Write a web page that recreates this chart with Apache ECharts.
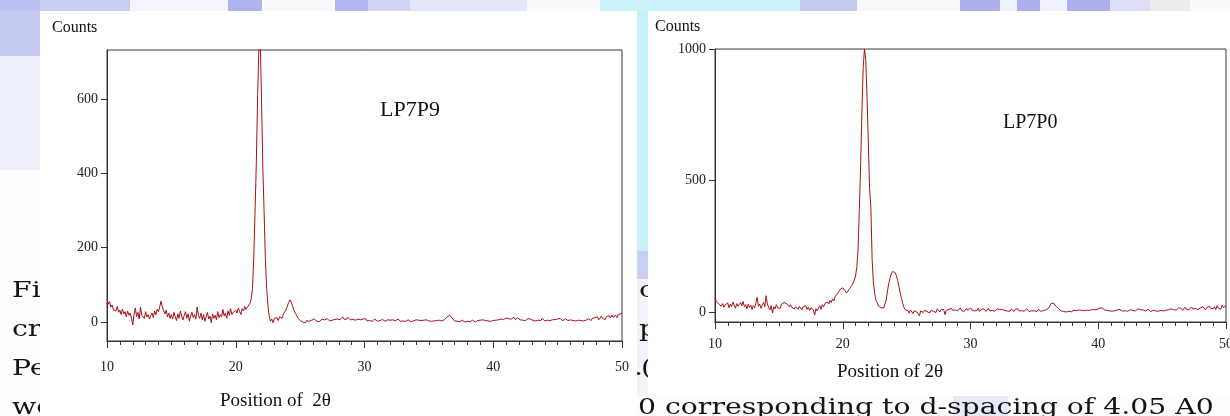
<!DOCTYPE html>
<html>
<head>
<meta charset="utf-8">
<script src="https://cdn.jsdelivr.net/npm/echarts@6/dist/echarts.min.js"></script>
<style>
  html, body { margin: 0; padding: 0; background: #fdfdfe; }
  #xrdChart { width: 1230px; height: 416px; }
</style>
</head>
<body>
<div id="xrdChart"></div>
<script>
// 2θ sampling of both scans: 10.0 .. 50.0, step 0.1
var thetaStart = 10;
var thetaStep = 0.1;

// LP7P9 counts (one row per degree)
var lp7p9Counts = [
  62, 48, 55, 40, 46, 33, 38, 30, 42, 26,
  32, 20, 35, 22, 28, 14, 30, 18, 24, 12,
  -8, 20, 38, 15, 26, 8, 40, 18, 22, 10,
  28, 14, 20, 8, 18, 24, 12, 30, 20, 35,
  28, 42, 56, 40, 30, 22, 32, 14, 24, 10,
  20, 8, 26, 14, 4, 22, 10, 30, 16, 6,
  18, 28, 10, 22, 2, 16, 26, 12, 20, 8,
  40, 18, 10, 24, 6, 20, 2, 14, 26, 8,
  16, -2, 22, 10, 18, 6, 28, 12, 20, 14,
  34, 16, 24, 10, 30, 18, 36, 20, 26, 22,
  32, 24, 38, 28, 20, 36, 30, 42, 34, 40,
  38, 50, 62, 90, 175, 300, 430, 610, 745, 760,
  600, 420, 300, 170, 90, 45, 15, 2, 8, -2,
  10, 6, 12, 4, 14, 18, 10, 22, 20, 32,
  42, 52, 60, 54, 44, 34, 26, 20, 12, 10,
  4, 6, 0, 2, -2, 4, 6, 2, 0, 5,
  3, 8, 4, 2, 6, 1, 5, 8, 3, 6,
  4, 9, 6, 3, 8, 5, 10, 7, 4, 8,
  12, 6, 9, 14, 8, 11, 7, 13, 9, 6,
  10, 7, 12, 5, 9, 8, 11, 6, 4, 8,
  5, 9, 3, 7, 4, 6, 2, 5, 8, 3,
  2, 6, 4, 3, 7, 5, 2, 4, 6, 3,
  5, 2, 6, 4, 3, 5, 8, 4, 2, 6,
  3, 5, 2, 4, 6, 3, 1, 5, 3, 4,
  6, 3, 5, 8, 4, 2, 5, 3, 6, 4,
  3, 5, 2, 4, 3, 6, 4, 2, 5, 4,
  3, 4, 6, 9, 13, 17, 19, 16, 11, 7,
  3, 6, 2, 4, 1, 3, 5, 2, 0, 3,
  2, 4, 1, 3, 5, 2, 0, 3, 4, 2,
  5, 3, 6, 2, 4, 7, 3, 5, 2, 6,
  4, 7, 5, 9, 6, 10, 8, 12, 7, 9,
  11, 6, 9, 12, 8, 10, 13, 7, 9, 11,
  8, 6, 10, 5, 8, 4, 7, 9, 5, 8,
  6, 4, 9, 3, 7, 5, 8, 4, 10, 6,
  3, 7, 5, 9, 4, 8, 6, 3, 7, 5,
  8, 4, 10, 6, 3, 7, 9, 5, 4, 8,
  6, 10, 4, 7, 3, 8, 5, 9, 4, 6,
  3, 8, 5, 2, 9, 6, 4, 10, 7, 12,
  8, 14, 6, 11, 16, 9, 13, 7, 15, 10,
  17, 11, 19, 13, 8, 18, 12, 20, 15, 22,
  24
];

// LP7P0 counts
var lp7p0Counts = [
  55, 40, 46, 30, 36, 22, 32, 18, 28, 24,
  34, 16, 30, 20, 38, 26, 14, 32, 22, 18,
  36, 24, 40, 20, 28, 12, 30, 18, 26, 10,
  24, 16, 34, 56, 22, 30, 14, 26, 36, 20,
  62, 30, 18, 8, 24, -4, 20, 12, 28, 16,
  22, 14, 30, 24, 36, 40, 32, 26, 20, 28,
  18, 24, 12, 20, 26, 10, 22, 16, 8, 20,
  14, 24, 10, 18, 6, 16, 22, 8, -12, 12,
  4, 16, 24, 10, 28, 20, 32, 26, 38, 30,
  44, 36, 50, 42, 58, 62, 70, 78, 86, 82,
  92, 88, 80, 72, 78, 86, 92, 100, 110, 120,
  137, 170, 240, 390, 560, 760, 930, 1000, 960, 820,
  650, 470, 400, 200, 110, 70, 45, 35, 22, 15,
  16, 14, 15, 22, 45, 80, 108, 128, 145, 154,
  158, 150, 138, 120, 96, 72, 52, 32, 16, 8,
  2, 6, -4, 8, 3, -6, 5, 10, 0, 7,
  -14, 4, 8, -2, 6, 12, 2, 8, -4, 6,
  10, 3, 8, -2, 12, 5, 0, 9, 4, 10,
  -10, 6, 2, 10, 4, 14, 6, 0, 8, 12,
  4, 10, 16, 6, 12, 2, 8, 14, 6, 10,
  16, 8, 12, 4, 10, 6, 14, 2, 8, 12,
  6, 10, 2, 8, 14, 4, 10, 6, 12, 3,
  8, 12, 5, 10, 3, 9, 14, 6, 10, 4,
  9, 3, 11, 6, 2, 10, 7, 12, 4, 8,
  5, 10, 3, 8, 12, 6, 2, 9, 5, 11,
  4, 8, 2, 10, 6, 3, 9, 5, 12, 8,
  8, 14, 22, 32, 38, 34, 28, 22, 18, 12,
  8, 4, 10, 2, 6, 0, 5, 3, 8, 1,
  4, 7, 0, 5, 2, 8, 3, 6, 1, 5,
  3, 7, 1, 6, 4, 9, 2, 8, 5, 10,
  8, 14, 19, 16, 12, 8, 11, 6, 9, 4,
  7, 3, 9, 5, 2, 8, 4, 10, 6, 3,
  8, 5, 11, 3, 7, 9, 2, 6, 10, 4,
  7, 12, 5, 9, 3, 8, 11, 4, 7, 10,
  5, 2, 9, 6, 12, 4, 8, 3, 10, 6,
  9, 4, 11, 7, 2, 8, 5, 12, 6, 9,
  13, 7, 11, 16, 9, 14, 6, 12, 18, 10,
  15, 8, 13, 19, 11, 6, 14, 17, 9, 12,
  16, 10, 20, 13, 8, 17, 11, 22, 14, 18,
  12, 20, 9, 24, 15, 19, 11, 26, 17, 21,
  24
];

// tick labels
var thetaTicks = [10, 20, 30, 40, 50];
var lp7p9Ticks = [0, 200, 400, 600];
var lp7p0Ticks = [0, 500, 1000];

function toPairs(counts) {
  return counts.map(function (c, i) {
    return [Math.round((thetaStart + i * thetaStep) * 10) / 10, c];
  });
}

var lineColor = "#a3121a";
var axisColor = "#333";
var tickFont = { fontFamily: "Liberation Serif", fontSize: 14, color: "#222" };

// page text around the figures (scanned document behind the charts)
function pageText(str, x, baseline) {
  return {
    type: "text", x: x, y: baseline - 7, scaleX: 1.23, z: -8, silent: true,
    style: { text: str, x: 0, y: 0, font: '23px "DejaVu Serif"', fill: "#141414", textVerticalAlign: "middle" }
  };
}
function bgRect(x, y, w, h, color, z) {
  return { type: "rect", z: z, silent: true, shape: { x: x, y: y, width: w, height: h }, style: { fill: color } };
}
function chartText(str, x, y, size) {
  return {
    type: "text", x: x, y: y, z: 10, silent: true,
    style: { text: str, x: 0, y: 0, font: size + 'px "Liberation Serif"', fill: "#111", textVerticalAlign: "middle" }
  };
}

// watermark band on top
var topBand = [
  [0, 40, "#bac1f1"], [40, 130, "#c8cdf4"], [130, 228, "#f3f4fc"], [228, 262, "#aeb5ee"],
  [262, 335, "#f8f8fd"], [335, 368, "#b0b6ee"], [368, 410, "#d0d4f5"], [410, 527, "#e4e7f8"],
  [527, 600, "#fafafe"], [600, 800, "#cdf3fa"], [800, 857, "#c2c8f2"], [857, 960, "#f8f9fd"],
  [960, 1000, "#aab1ec"], [1000, 1017, "#eef0fb"], [1017, 1040, "#aab1ec"], [1040, 1067, "#eef0fb"],
  [1067, 1110, "#aab1ec"], [1110, 1150, "#dcdff6"], [1150, 1190, "#ececef"], [1190, 1230, "#fafafa"]
];

var graphics = [];
topBand.forEach(function (b) { graphics.push(bgRect(b[0], 0, b[1] - b[0], 11, b[2], -10)); });
graphics.push(bgRect(0, 11, 40, 45, "#c3c9f3", -10));
graphics.push(bgRect(0, 56, 40, 114, "#eceefa", -10));
graphics.push(bgRect(637, 11, 11, 240, "#c8f1fa", -10));
graphics.push(bgRect(637, 251, 11, 28, "#c8d0f2", -10));
graphics.push(bgRect(637, 279, 11, 117, "#f2f3f8", -10));
graphics.push(bgRect(953, 396, 55, 20, "#e8eaf8", -10));

graphics.push(pageText("Fig. 3", 12, 298));
graphics.push(pageText("crystallinity", 12, 337));
graphics.push(pageText("Percent", 12, 376));
graphics.push(pageText("were", 12, 415));
graphics.push(pageText("c", 639, 298));
graphics.push(pageText("p", 639, 337));
graphics.push(pageText(".", 634, 376));
graphics.push(pageText("(", 641, 376));
graphics.push(pageText("0 corresponding to d-spacing of 4.05 A0", 638, 415));

// white figure panels
graphics.push(bgRect(40, 11, 597, 405, "#ffffff", -5));
graphics.push(bgRect(648, 11, 582, 385, "#ffffff", -5));

graphics.push(chartText("Counts", 52, 28, 16));
graphics.push(chartText("LP7P9", 380, 110, 22));
graphics.push(chartText("Position of  2\u03b8", 220, 401, 19));
graphics.push(chartText("Counts", 655, 27, 16));
graphics.push(chartText("LP7P0", 1003, 123, 20));
graphics.push(chartText("Position of 2\u03b8", 837, 372, 19));

function plainNumber(v) {
  return String(v);
}

function thetaAxis(gridIndex, labelMargin) {
  return {
    type: "value", gridIndex: gridIndex, min: 10, max: 50, interval: 10,
    axisLine: { onZero: false, lineStyle: { color: axisColor, width: 1 } },
    axisTick: { show: true, length: 7, lineStyle: { color: axisColor } },
    minorTick: { show: true, splitNumber: 10, length: 4, lineStyle: { color: axisColor } },
    axisLabel: Object.assign({ margin: labelMargin, showMinLabel: true, showMaxLabel: true, formatter: plainNumber }, tickFont),
    splitLine: { show: false }
  };
}
function countAxis(gridIndex, min, max, ticks) {
  return {
    type: "value", gridIndex: gridIndex, min: min, max: max,
    axisLine: { show: true, onZero: false, lineStyle: { color: axisColor, width: 1 } },
    axisTick: { show: true, length: 6, customValues: ticks, lineStyle: { color: axisColor } },
    axisLabel: Object.assign({ margin: 9, customValues: ticks, formatter: plainNumber }, tickFont),
    splitLine: { show: false }
  };
}

var myChart = echarts.init(document.getElementById("xrdChart"));
var option = {
  animation: false,
  backgroundColor: "#fdfdfe",
  graphic: { elements: graphics },
  grid: [
    { left: 107, top: 50, width: 515, height: 291, show: true, borderColor: "#3a3a3a", borderWidth: 1, backgroundColor: "transparent", outerBoundsMode: "none" },
    { left: 715, top: 49, width: 511, height: 273, show: true, borderColor: "#3a3a3a", borderWidth: 1, backgroundColor: "transparent", outerBoundsMode: "none" }
  ],
  xAxis: [thetaAxis(0, 19), thetaAxis(1, 15)],
  yAxis: [countAxis(0, -51, 732, lp7p9Ticks), countAxis(1, -38, 1000, lp7p0Ticks)],
  series: [
    {
      name: "LP7P9", type: "line", xAxisIndex: 0, yAxisIndex: 0,
      data: toPairs(lp7p9Counts), showSymbol: false, symbol: "none", clip: true,
      lineStyle: { color: lineColor, width: 1 }
    },
    {
      name: "LP7P0", type: "line", xAxisIndex: 1, yAxisIndex: 1,
      data: toPairs(lp7p0Counts), showSymbol: false, symbol: "none", clip: true,
      lineStyle: { color: lineColor, width: 1 }
    }
  ]
};
myChart.setOption(option);
</script>
</body>
</html>
